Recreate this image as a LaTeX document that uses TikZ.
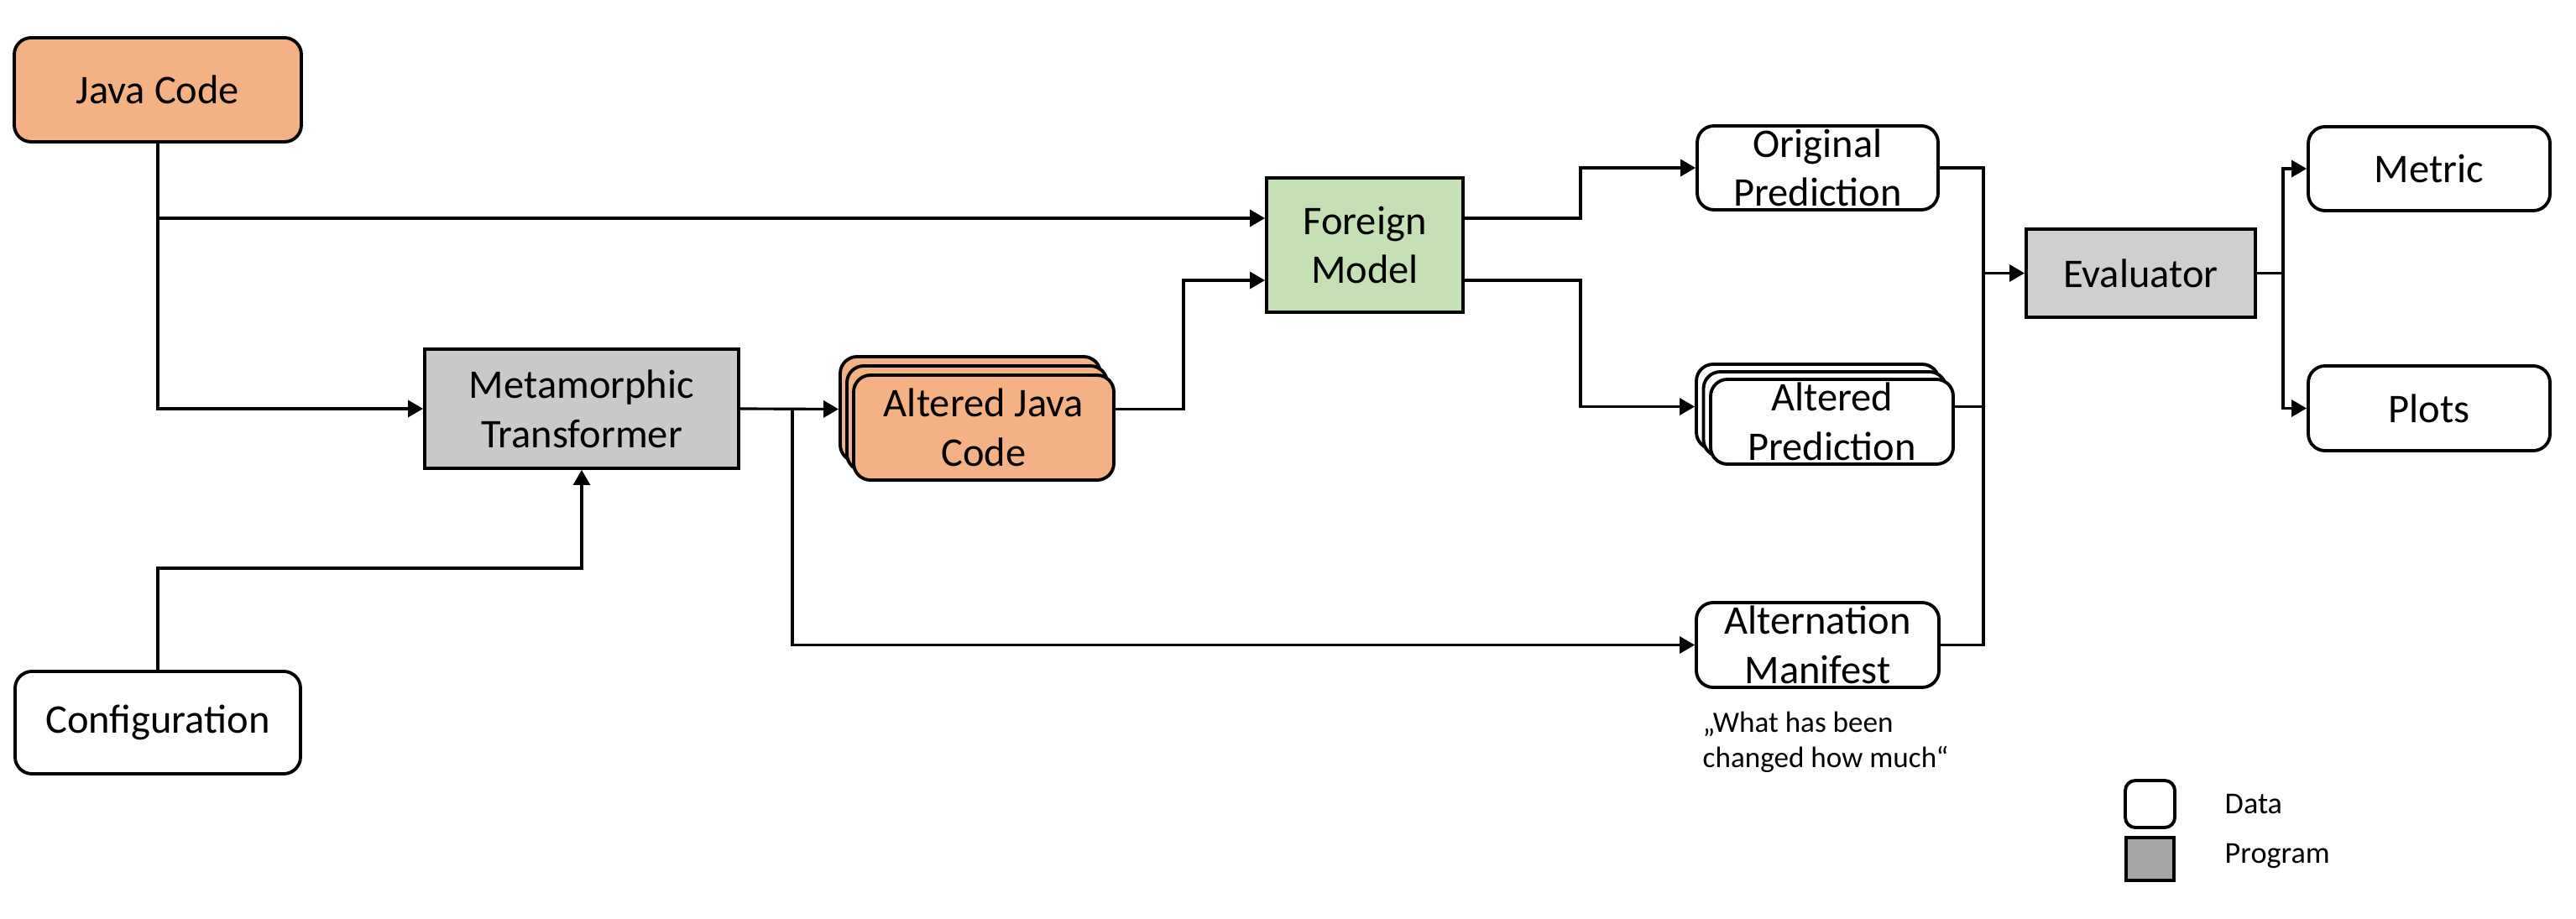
\documentclass[tikz,border=0pt]{standalone}
\usepackage{fontspec}
\setmainfont{Carlito}
\usepackage{tikz}
\usepackage{xcolor}
\usetikzlibrary{arrows.meta}
\definecolor{javaorange}{HTML}{F4B183}
\definecolor{modelgreen}{HTML}{C5E0B4}
\definecolor{transgray}{HTML}{C9C9C9}
\definecolor{evalgray}{HTML}{D0CECE}
\definecolor{legendgray}{HTML}{A6A6A6}
\tikzset{
    data-box/.style = {draw=black, fill=white, line width=1.1pt, rectangle, rounded corners=0.2cm, align=center, inner sep=0pt, font=\fontsize{13.8}{16.7}\selectfont},
    code-box/.style = {data-box, fill=javaorange},
    program-box/.style = {draw=black, fill=transgray, line width=1.1pt, rectangle, align=center, inner sep=0pt, font=\fontsize{13.8}{16.7}\selectfont},
    model-box/.style = {program-box, fill=modelgreen},
    flow/.style = {line width=0.9pt, -{Triangle[length=0.18cm, width=0.2cm]}},
    link/.style = {line width=0.9pt},
    small-text/.style = {font=\fontsize{10}{12.2}\selectfont, align=left, inner sep=0pt},
    legend-text/.style = {font=\fontsize{10.3}{12}\selectfont, anchor=west, inner sep=0pt},
}

\begin{document}
\begin{tikzpicture}
\useasboundingbox (0,0) rectangle (30.69,-10.95);
% inputs and transformer
\node [code-box, minimum width=3.42cm, minimum height=1.24cm] (java) at (1.88,-1.07) {Java Code};
\node [data-box, minimum width=3.40cm, minimum height=1.22cm] (config) at (1.88,-8.61) {Configuration};
\node [program-box, minimum width=3.74cm, minimum height=1.42cm] (meta) at (6.93,-4.87) {Metamorphic\\Transformer};
% stack of altered code
\node [code-box, minimum width=3.10cm, minimum height=1.25cm] (ajava3) at (11.56,-4.875) {};
\node [code-box, minimum width=3.10cm, minimum height=1.25cm] (ajava2) at (11.64,-4.985) {};
\node [code-box, minimum width=3.10cm, minimum height=1.25cm] (ajava) at (11.72,-5.095) {Altered Java\\Code};
\node [model-box, minimum width=2.34cm, minimum height=1.60cm] (foreign) at (16.26,-2.92) {Foreign\\Model};
% outputs of the model
\node [data-box, minimum width=2.87cm, minimum height=1.00cm] (opred) at (21.655,-2.00) {Original\\Prediction};
\node [data-box, minimum width=2.89cm, minimum height=1.01cm] (apred3) at (21.655,-4.845) {};
\node [data-box, minimum width=2.89cm, minimum height=1.01cm] (apred2) at (21.74,-4.935) {};
\node [data-box, minimum width=2.89cm, minimum height=1.01cm] (apred) at (21.825,-5.025) {Altered\\Prediction};
\node [data-box, minimum width=2.89cm, minimum height=1.01cm] (manifest) at (21.655,-7.685) {Alternation\\Manifest};
\node [small-text, anchor=north west] (note) at (20.28,-8.47) {„What has been\\changed how much“};
% evaluation
\node [program-box, fill=evalgray, minimum width=2.73cm, minimum height=1.05cm] (eval) at (25.505,-3.255) {Evaluator};
\node [data-box, minimum width=2.88cm, minimum height=1.00cm] (metric) at (28.94,-2.01) {Metric};
\node [data-box, minimum width=2.88cm, minimum height=1.01cm] (plots) at (28.94,-4.865) {Plots};
% legend
\node [data-box, rounded corners=0.12cm, minimum width=0.59cm, minimum height=0.56cm] (legdata) at (25.615,-9.58) {};
\node [program-box, fill=legendgray, minimum width=0.57cm, minimum height=0.51cm] (legprog) at (25.615,-10.235) {};
\node [legend-text] (legdatatext) at (26.50,-9.58) {Data};
\node [legend-text] (legprogtext) at (26.50,-10.20) {Program};

\coordinate (fmin1) at ([yshift=0.32cm]foreign.west);
\coordinate (fmin2) at ([yshift=-0.42cm]foreign.west);
\coordinate (fmout1) at ([yshift=0.32cm]foreign.east);
\coordinate (fmout2) at ([yshift=-0.42cm]foreign.east);

% connectors
\draw [flow] (java.south) |- (meta.west);
\draw [flow] (java.south |- fmin1) -- (fmin1);
\draw [flow] (config.north) -- ++(0,1.21) -| (meta.south);
\draw [flow] (meta.east) -- (ajava3.west);
\draw [flow] ([xshift=0.62cm]meta.east) |- (manifest.west);
\draw [flow] (ajava.east |- ajava3.east) -- ++(0.81,0) |- (fmin2);
\draw [flow] (fmout1) -- ++(1.38,0) |- (opred.west);
\draw [flow] (fmout2) -- ++(1.38,0) |- (apred3.west);
\draw [link] (opred.east) -- ++(0.52,0) coordinate (bustop) |- (manifest.east);
\draw [link] (apred.east |- apred3.east) -- (bustop |- apred3.east);
\draw [flow] (bustop |- eval.west) -- (eval.west);
\draw [link] (eval.east) -- ++(0.31,0) coordinate (evj);
\draw [flow] (evj) |- (metric.west);
\draw [flow] (evj) |- (plots.west);
\end{tikzpicture}
\end{document}
